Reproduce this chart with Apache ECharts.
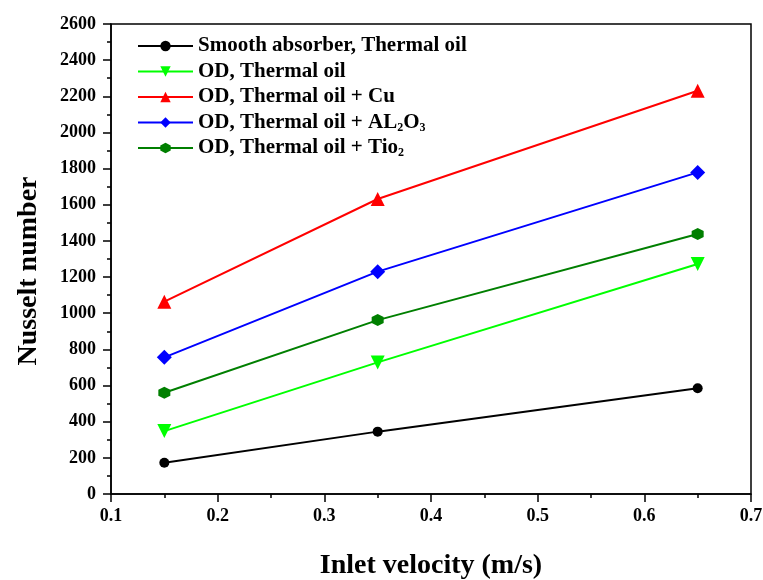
<!DOCTYPE html>
<html><head><meta charset="utf-8">
<script src="https://cdn.jsdelivr.net/npm/echarts@6/dist/echarts.min.js"></script>
<style>html,body{margin:0;padding:0;background:#fff}#c{width:763px;height:580px}</style>
</head><body><div id="c"></div>
<script>
var xValues = [0.15, 0.35, 0.65];
var seriesNames = ['Smooth absorber, Thermal oil', 'OD, Thermal oil', 'OD, Thermal oil + Cu', 'OD, Thermal oil + AL2O3', 'OD, Thermal oil + Tio2'];
var smooth = [173, 345, 585];
var odOil = [348, 728, 1272];
var odCu = [1064, 1632, 2231];
var odAl = [756, 1230, 1779];
var odTi = [560, 962, 1438];
var yTicks = [0, 200, 400, 600, 800, 1000, 1200, 1400, 1600, 1800, 2000, 2200, 2400, 2600];

var font = 'Liberation Serif';
var hex = 'path://M0,-10 L8.66,-5 L8.66,5 L0,10 L-8.66,5 L-8.66,-5 Z';
var colors = ['#000000', '#00ff00', '#ff0000', '#0000ff', '#007f00'];
var symbols = ['circle', 'triangle', 'triangle', 'diamond', hex];
var rotates = [0, 180, 0, 0, 0];
var sizes = [10, 14, 14, 15, 12];
var datas = [smooth, odOil, odCu, odAl, odTi];

var series = seriesNames.map(function (n, i) {
  return {
    name: n, type: 'line',
    data: xValues.map(function (x, j) { return [x, datas[i][j]]; }),
    symbol: symbols[i], symbolRotate: rotates[i], symbolSize: sizes[i],
    itemStyle: { color: colors[i] },
    lineStyle: { color: colors[i], width: 2 },
    animation: false
  };
});

var chart = echarts.init(document.getElementById('c'));
chart.setOption({
  backgroundColor: '#fff',
  animation: false,
  grid: { left: 111, right: 12, top: 24, bottom: 86, show: true, borderColor: '#000', borderWidth: 1.5,
    containLabel: false, outerBoundsMode: 'none' },
  legend: {
    orient: 'vertical', left: 132, top: 30, itemWidth: 55, itemHeight: 13, itemGap: 3.5,
    data: seriesNames,
    formatter: function (n) {
      if (n === seriesNames[3]) return 'OD, Thermal oil + AL{sub|2}O{sub|3}';
      if (n === seriesNames[4]) return 'OD, Thermal oil + Tio{sub|2}';
      return n;
    },
    textStyle: {
      fontFamily: font, fontWeight: 'bold', fontSize: 21, color: '#000', lineHeight: 22,
      rich: { sub: { fontFamily: font, fontWeight: 'bold', fontSize: 12, color: '#000', verticalAlign: 'bottom', lineHeight: 20, padding: [10, 0, 0, 0] } }
    }
  },
  xAxis: {
    type: 'value', min: 0.1, max: 0.7, interval: 0.1,
    name: 'Inlet velocity (m/s)', nameLocation: 'middle', nameGap: 58,
    nameTextStyle: { fontFamily: font, fontWeight: 'bold', fontSize: 28, color: '#000' },
    axisLine: { lineStyle: { color: '#000', width: 1.5 } },
    axisTick: { show: true, length: 8, lineStyle: { color: '#000', width: 1.5 } },
    minorTick: { show: true, splitNumber: 2, length: 4, lineStyle: { color: '#000', width: 1.5 } },
    splitLine: { show: false },
    axisLabel: { fontFamily: font, fontWeight: 'bold', fontSize: 18, color: '#000', margin: 13,
      formatter: function (v) { return v.toFixed(1); } }
  },
  yAxis: {
    type: 'value', min: yTicks[0], max: yTicks[yTicks.length - 1], interval: 200,
    name: 'Nusselt number', nameLocation: 'middle', nameGap: 68,
    nameTextStyle: { fontFamily: font, fontWeight: 'bold', fontSize: 28, color: '#000', padding: [0, 24, 0, 0] },
    axisLine: { show: true, lineStyle: { color: '#000', width: 1.5 } },
    axisTick: { show: true, length: 8, lineStyle: { color: '#000', width: 1.5 } },
    minorTick: { show: true, splitNumber: 2, length: 4, lineStyle: { color: '#000', width: 1.5 } },
    splitLine: { show: false },
    axisLabel: { fontFamily: font, fontWeight: 'bold', fontSize: 18, color: '#000', margin: 15,
      formatter: function (v) { return String(v); } }
  },
  series: series
});
</script></body></html>
